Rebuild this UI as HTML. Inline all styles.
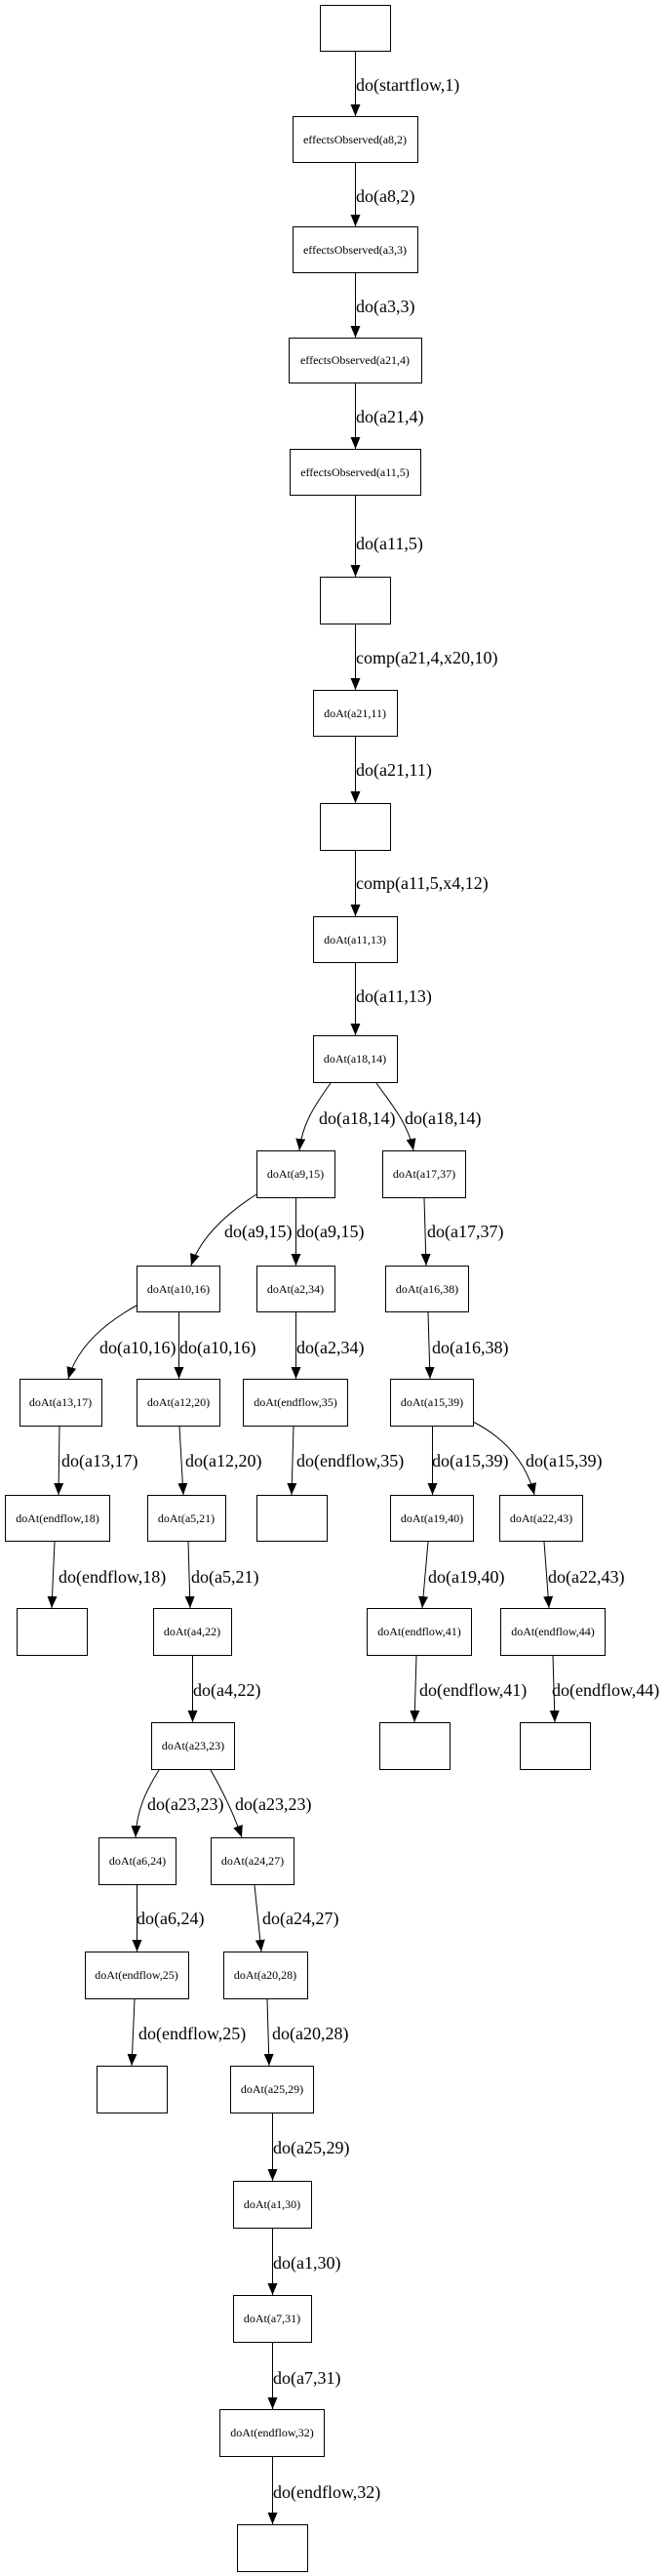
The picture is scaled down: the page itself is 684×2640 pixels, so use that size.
<!DOCTYPE html>
<html><head><meta charset="utf-8"><style>
html,body{margin:0;padding:0;background:#fff;}
svg{display:block;}
.n{fill:#fff;stroke:#000;stroke-width:1;}
.t{font-family:"Liberation Serif",serif;font-size:12px;text-anchor:middle;}
.l{font-family:"Liberation Serif",serif;font-size:18px;}
.e{fill:none;stroke:#000;stroke-width:1;marker-end:url(#a);}
</style></head><body>
<svg width="684" height="2640" viewBox="0 0 684 2640" xmlns="http://www.w3.org/2000/svg">
<defs><marker id="a" markerUnits="userSpaceOnUse" markerWidth="12" markerHeight="10" refX="12" refY="5" orient="auto"><path d="M0,0 L12,5 L0,10 z" fill="#000"/></marker></defs>

<rect class="n" x="328.5" y="5.5" width="72" height="47"/>
<rect class="n" x="300.5" y="119.5" width="128" height="47"/><text class="t" x="364" y="147">effectsObserved(a8,2)</text>
<rect class="n" x="300.5" y="232.5" width="128" height="47"/><text class="t" x="364" y="260">effectsObserved(a3,3)</text>
<rect class="n" x="296.5" y="346.5" width="136" height="46"/><text class="t" x="364" y="373">effectsObserved(a21,4)</text>
<rect class="n" x="297.5" y="460.5" width="134" height="47"/><text class="t" x="364" y="488">effectsObserved(a11,5)</text>
<rect class="n" x="328.5" y="591.5" width="72" height="48"/>
<rect class="n" x="321.5" y="707.5" width="86" height="47"/><text class="t" x="364" y="735">doAt(a21,11)</text>
<rect class="n" x="328.5" y="823.5" width="72" height="48"/>
<rect class="n" x="321.5" y="939.5" width="86" height="47"/><text class="t" x="364" y="967">doAt(a11,13)</text>
<rect class="n" x="321.5" y="1061.5" width="86" height="48"/><text class="t" x="364" y="1089">doAt(a18,14)</text>
<rect class="n" x="263.5" y="1179.5" width="80" height="48"/><text class="t" x="303" y="1207">doAt(a9,15)</text>
<rect class="n" x="392.5" y="1179.5" width="85" height="48"/><text class="t" x="435" y="1207">doAt(a17,37)</text>
<rect class="n" x="140.5" y="1297.5" width="85" height="47"/><text class="t" x="183" y="1325">doAt(a10,16)</text>
<rect class="n" x="263.5" y="1297.5" width="80" height="47"/><text class="t" x="303" y="1325">doAt(a2,34)</text>
<rect class="n" x="395.5" y="1297.5" width="85" height="47"/><text class="t" x="438" y="1325">doAt(a16,38)</text>
<rect class="n" x="20.5" y="1413.5" width="84" height="48"/><text class="t" x="62" y="1441">doAt(a13,17)</text>
<rect class="n" x="140.5" y="1413.5" width="85" height="48"/><text class="t" x="183" y="1441">doAt(a12,20)</text>
<rect class="n" x="249.5" y="1413.5" width="107" height="48"/><text class="t" x="303" y="1441">doAt(endflow,35)</text>
<rect class="n" x="400.5" y="1413.5" width="85" height="48"/><text class="t" x="443" y="1441">doAt(a15,39)</text>
<rect class="n" x="5.5" y="1532.5" width="107" height="47"/><text class="t" x="59" y="1560">doAt(endflow,18)</text>
<rect class="n" x="151.5" y="1532.5" width="80" height="47"/><text class="t" x="191" y="1560">doAt(a5,21)</text>
<rect class="n" x="263.5" y="1532.5" width="72" height="47"/>
<rect class="n" x="400.5" y="1532.5" width="85" height="47"/><text class="t" x="443" y="1560">doAt(a19,40)</text>
<rect class="n" x="512.5" y="1532.5" width="85" height="47"/><text class="t" x="555" y="1560">doAt(a22,43)</text>
<rect class="n" x="17.5" y="1648.5" width="72" height="48"/>
<rect class="n" x="157.5" y="1648.5" width="80" height="48"/><text class="t" x="197" y="1676">doAt(a4,22)</text>
<rect class="n" x="376.5" y="1648.5" width="107" height="48"/><text class="t" x="430" y="1676">doAt(endflow,41)</text>
<rect class="n" x="513.5" y="1648.5" width="107" height="48"/><text class="t" x="567" y="1676">doAt(endflow,44)</text>
<rect class="n" x="155.5" y="1765.5" width="85" height="48"/><text class="t" x="198" y="1793">doAt(a23,23)</text>
<rect class="n" x="389.5" y="1765.5" width="72" height="48"/>
<rect class="n" x="533.5" y="1765.5" width="72" height="48"/>
<rect class="n" x="101.5" y="1883.5" width="79" height="48"/><text class="t" x="141" y="1911">doAt(a6,24)</text>
<rect class="n" x="216.5" y="1883.5" width="85" height="48"/><text class="t" x="259" y="1911">doAt(a24,27)</text>
<rect class="n" x="87.5" y="2000.5" width="106" height="48"/><text class="t" x="140" y="2028">doAt(endflow,25)</text>
<rect class="n" x="229.5" y="2000.5" width="86" height="48"/><text class="t" x="272" y="2028">doAt(a20,28)</text>
<rect class="n" x="99.5" y="2117.5" width="72" height="48"/>
<rect class="n" x="236.5" y="2117.5" width="85" height="48"/><text class="t" x="279" y="2145">doAt(a25,29)</text>
<rect class="n" x="239.5" y="2235.5" width="80" height="48"/><text class="t" x="279" y="2263">doAt(a1,30)</text>
<rect class="n" x="239.5" y="2352.5" width="80" height="48"/><text class="t" x="279" y="2380">doAt(a7,31)</text>
<rect class="n" x="225.5" y="2469.5" width="107" height="48"/><text class="t" x="279" y="2497">doAt(endflow,32)</text>
<rect class="n" x="243.5" y="2587.5" width="72" height="48"/>

<path class="e" d="M364.5,53 L364.5,119"/>
<path class="e" d="M364.5,167 L364.5,232"/>
<path class="e" d="M364.5,280 L364.5,346"/>
<path class="e" d="M364.5,393 L364.5,460"/>
<path class="e" d="M364.5,508 L364.5,591"/>
<path class="e" d="M364.5,640 L364.5,707"/>
<path class="e" d="M364.5,755 L364.5,823"/>
<path class="e" d="M364.5,872 L364.5,939"/>
<path class="e" d="M364.5,987 L364.5,1061"/>
<path class="e" d="M339,1110 C325,1130 310,1150 307,1179"/>
<path class="e" d="M386,1110 C400,1130 418,1150 424,1179"/>
<path class="e" d="M263,1224 C230,1245 205,1270 196,1297"/>
<path class="e" d="M303.5,1228 L303.5,1297"/>
<path class="e" d="M435,1228 L437,1297"/>
<path class="e" d="M140,1338 C100,1360 78,1385 70,1413"/>
<path class="e" d="M183.5,1345 L183.5,1413"/>
<path class="e" d="M303.5,1345 L303.5,1413"/>
<path class="e" d="M439,1345 L441,1413"/>
<path class="e" d="M61,1462 L60,1532"/>
<path class="e" d="M184,1462 L188,1532"/>
<path class="e" d="M301,1462 L299,1532"/>
<path class="e" d="M443.5,1462 L443.5,1532"/>
<path class="e" d="M485,1457 C520,1475 540,1500 548,1532"/>
<path class="e" d="M56,1580 L53,1648"/>
<path class="e" d="M193,1580 L195,1648"/>
<path class="e" d="M439,1580 L433,1648"/>
<path class="e" d="M558,1580 L563,1648"/>
<path class="e" d="M197.5,1697 L197.5,1765"/>
<path class="e" d="M427,1697 L425,1765"/>
<path class="e" d="M567,1697 L569,1765"/>
<path class="e" d="M163,1814 C150,1835 140,1855 139,1883"/>
<path class="e" d="M216,1814 C228,1835 240,1860 248,1883"/>
<path class="e" d="M140.5,1932 L140.5,2000"/>
<path class="e" d="M261,1932 L268,2000"/>
<path class="e" d="M138,2049 L135,2117"/>
<path class="e" d="M274,2049 L276,2117"/>
<path class="e" d="M279.5,2166 L279.5,2235"/>
<path class="e" d="M279.5,2284 L279.5,2352"/>
<path class="e" d="M279.5,2401 L279.5,2469"/>
<path class="e" d="M279.5,2518 L279.5,2587"/>

<text class="l" x="365" y="93">do(startflow,1)</text>
<text class="l" x="365" y="207">do(a8,2)</text>
<text class="l" x="365" y="320">do(a3,3)</text>
<text class="l" x="365" y="433">do(a21,4)</text>
<text class="l" x="365" y="563">do(a11,5)</text>
<text class="l" x="365" y="680">comp(a21,4,x20,10)</text>
<text class="l" x="365" y="795">do(a21,11)</text>
<text class="l" x="365" y="911">comp(a11,5,x4,12)</text>
<text class="l" x="365" y="1027">do(a11,13)</text>
<text class="l" x="327" y="1152">do(a18,14)</text>
<text class="l" x="415" y="1152">do(a18,14)</text>
<text class="l" x="230" y="1268">do(a9,15)</text>
<text class="l" x="304" y="1268">do(a9,15)</text>
<text class="l" x="438" y="1268">do(a17,37)</text>
<text class="l" x="102" y="1387">do(a10,16)</text>
<text class="l" x="184" y="1387">do(a10,16)</text>
<text class="l" x="304" y="1387">do(a2,34)</text>
<text class="l" x="443" y="1387">do(a16,38)</text>
<text class="l" x="63" y="1503">do(a13,17)</text>
<text class="l" x="190" y="1503">do(a12,20)</text>
<text class="l" x="304" y="1503">do(endflow,35)</text>
<text class="l" x="443" y="1503">do(a15,39)</text>
<text class="l" x="539" y="1503">do(a15,39)</text>
<text class="l" x="60" y="1622">do(endflow,18)</text>
<text class="l" x="196" y="1622">do(a5,21)</text>
<text class="l" x="439" y="1622">do(a19,40)</text>
<text class="l" x="562" y="1622">do(a22,43)</text>
<text class="l" x="198" y="1738">do(a4,22)</text>
<text class="l" x="430" y="1738">do(endflow,41)</text>
<text class="l" x="566" y="1738">do(endflow,44)</text>
<text class="l" x="151" y="1855">do(a23,23)</text>
<text class="l" x="241" y="1855">do(a23,23)</text>
<text class="l" x="140" y="1972">do(a6,24)</text>
<text class="l" x="269" y="1972">do(a24,27)</text>
<text class="l" x="142" y="2090">do(endflow,25)</text>
<text class="l" x="279" y="2090">do(a20,28)</text>
<text class="l" x="280" y="2207">do(a25,29)</text>
<text class="l" x="280" y="2325">do(a1,30)</text>
<text class="l" x="280" y="2443">do(a7,31)</text>
<text class="l" x="280" y="2560">do(endflow,32)</text>
</svg>
</body></html>
